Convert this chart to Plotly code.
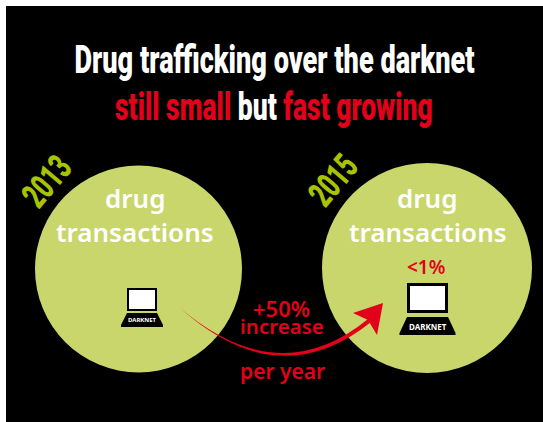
import plotly.graph_objects as go

W, H = 543, 422
years = ["2013", "2015"]
circle_x = [138.5, 427]
circle_y = [269, 268]
circle_r = [103.5, 105]
title_1 = "Drug trafficking over the darknet"
title_2 = "<span style='color:#e2001a'>still small</span> but <span style='color:#e2001a'>fast growing</span>"
GREEN, RED, LIME = "#c8d66b", "#e2001a", "#a8c300"
DISP = "Roboto"
BODY = "Noto Sans"

shapes = [dict(type="rect", x0=6, x1=W, y0=6, y1=H, fillcolor="black", line_width=0, layer="below")]
for cx, cy, r in zip(circle_x, circle_y, circle_r):
    shapes.append(dict(type="circle", x0=cx-r, x1=cx+r, y0=cy-r, y1=cy+r,
                       fillcolor=GREEN, line_width=0, layer="below"))

def laptop(sx0, sx1, sy0, sy1, bw, by0, by1, border):
    xc = (sx0 + sx1) / 2
    shapes.append(dict(type="rect", x0=sx0, x1=sx1, y0=sy0, y1=sy1, fillcolor="black", line_width=0))
    shapes.append(dict(type="rect", x0=sx0+border, x1=sx1-border, y0=sy0+border, y1=sy1-border,
                       fillcolor="white", line_width=0))
    tw = sx1 - sx0
    shapes.append(dict(type="path",
                       path=f"M{xc-tw/2},{by0} L{xc+tw/2},{by0} L{xc+bw/2},{by1-2} L{xc+bw/2},{by1} L{xc-bw/2},{by1} L{xc-bw/2},{by1-2} Z",
                       fillcolor="black", line_width=0))

laptop(127, 157, 288, 311, 42, 313, 327, 2)
laptop(407, 448, 283, 313, 56, 317, 335, 3)

# tapered arrow
shapes.append(dict(type="path", path="M180,308 Q279,396 371,322 L368,319 Q279,392 180,308 Z",
                   fillcolor=RED, line_width=0))
shapes.append(dict(type="path", path="M383,303 L353,313 L368,320 L377,335 Z", fillcolor=RED, line_width=0))

fig = go.Figure()
fig.add_trace(go.Scatter(x=[0, W], y=[0, H], mode="markers", marker_opacity=0, hoverinfo="skip", showlegend=False))

def txt(x, y, t, size, color, fam=BODY, weight=400, angle=0):
    fig.add_annotation(x=x, y=y, text=t, showarrow=False,
                       font=dict(family=fam, size=size, color=color, weight=weight),
                       textangle=angle, xanchor="center", yanchor="middle", align="center")

txt(274, 60, title_1, 38, "white", DISP, 900)
txt(274, 107, title_2, 38, "white", DISP, 900)
txt(135, 198, "drug", 26, "white", BODY, 600)
txt(134.5, 232, "transactions", 26, "white", BODY, 600)
txt(427, 198, "drug", 26, "white", BODY, 600)
txt(427.5, 232, "transactions", 26, "white", BODY, 600)
txt(46.5, 181.5, years[0], 36, LIME, DISP, 900, angle=-50)
txt(333, 181, years[1], 36, LIME, DISP, 900, angle=-50)
txt(426, 267, "&lt;1%", 19, RED, BODY, 600)
txt(281, 308, "+50%", 22, RED, BODY, 600)
txt(282, 326, "increase", 20.5, RED, BODY, 600)
txt(282, 371, "per year", 21, RED, BODY, 600)
txt(142, 320, "DARKNET", 6, "white", BODY, 700)
txt(428, 326, "DARKNET", 8, "white", BODY, 700)

fig.update_layout(width=W, height=H, margin=dict(l=0, r=0, t=0, b=0), paper_bgcolor="white", plot_bgcolor="white",
                  shapes=shapes, showlegend=False,
                  xaxis=dict(range=[0, W], visible=False, fixedrange=True),
                  yaxis=dict(range=[H, 0], visible=False, fixedrange=True))

# condense the display-face texts (no condensed face is installed) to their measured widths
post = """
document.body.style.margin='0';
var targets={'Drug trafficking over the darknet':400,'still small but fast growing':318,'2013':54,'2015':54};
document.querySelectorAll('.annotation-text').forEach(function(t){
  var w=targets[t.textContent];
  if(!w)return;
  var s=w/t.getBBox().width;
  t.style.transformBox='fill-box';
  t.style.transformOrigin='center';
  t.style.transform='scaleX('+s+')';
});
"""
fig.write_html("out.html", config={"displayModeBar": False}, post_script=post)
